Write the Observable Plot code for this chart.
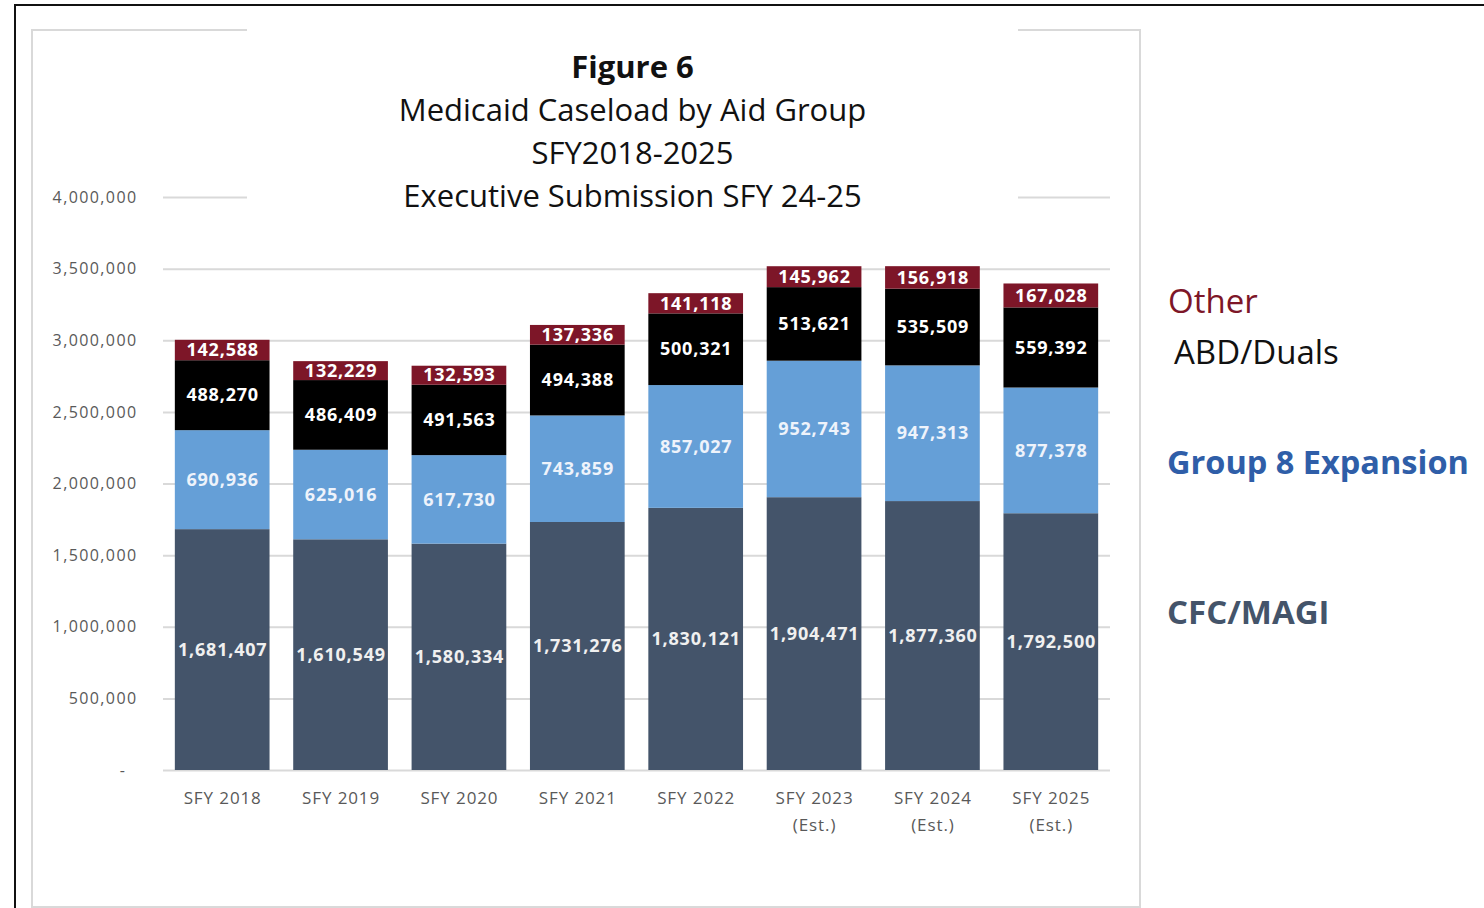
<!DOCTYPE html>
<html><head><meta charset="utf-8">
<script src="https://cdn.jsdelivr.net/npm/d3@7"></script>
<script src="https://cdn.jsdelivr.net/npm/@observablehq/plot@0.6"></script>
<style>
body{margin:0;background:#fff;font-family:"Open Sans",Lato,sans-serif;}
#wrap{position:relative;width:1484px;height:908px;overflow:hidden;background:#fff;}
#wrap svg{position:absolute;left:0;top:0;}
.abs{position:absolute;}
#outer{left:14px;top:4px;width:1600px;height:1000px;border-left:2px solid #111;border-top:2px solid #111;}
#inner{left:31px;top:29px;width:1106px;height:875px;border:2px solid #d9d9d9;}
#title{left:247px;top:26px;width:771px;padding-top:19px;background:#fff;text-align:center;color:#111;font-size:31px;line-height:43px;}
.leg{font-size:33px;white-space:nowrap;line-height:40px;}
.ytick text{letter-spacing:1.4px;}
.xtick text{letter-spacing:0.9px;}
.seglab text{letter-spacing:0.8px;}
</style></head><body><div id="wrap">
<div class="abs" id="outer"></div>
<div class="abs" id="inner"></div>
</div>
<script>
const years = ["SFY 2018","SFY 2019","SFY 2020","SFY 2021","SFY 2022","SFY 2023\n(Est.)","SFY 2024\n(Est.)","SFY 2025\n(Est.)"];
const cfcMagi = [1681407,1610549,1580334,1731276,1830121,1904471,1877360,1792500];
const group8 = [690936,625016,617730,743859,857027,952743,947313,877378];
const abdDuals = [488270,486409,491563,494388,500321,513621,535509,559392];
const other = [142588,132229,132593,137336,141118,145962,156918,167028];
const groups = ["CFC/MAGI","Group 8 Expansion","ABD/Duals","Other"];
const colors = ["#44546a","#659fd7","#000000","#7d1628"];
const labelColors = ["#f0f0f0","#eef3fb","#ffffff","#ffffff"];
const yTicks = [0,500000,1000000,1500000,2000000,2500000,3000000,3500000,4000000];
const titleLines = ["Figure 6","Medicaid Caseload by Aid Group","SFY2018-2025","Executive Submission SFY 24-25"];
const legendColors = ["#7d1628","#111111","#2f5ea8","#44546a"];

const series = [cfcMagi, group8, abdDuals, other];
const rows = [];
years.forEach((yr, i) => series.forEach((arr, g) => rows.push({year: yr, group: groups[g], value: arr[i], lc: labelColors[g]})));
const fmt = d3.format(",");

const plot = Plot.plot({
  width: 1484, height: 908,
  marginLeft: 163, marginRight: 374, marginTop: 197, marginBottom: 138,
  style: {background: "transparent", fontFamily: "'Open Sans', Lato, sans-serif", fontSize: "16px"},
  x: {domain: years, paddingInner: 0.2, paddingOuter: 0.1, round: false, label: null},
  y: {domain: [0, 4000000], label: null},
  color: {domain: groups, range: colors},
  marks: [
    Plot.gridY(yTicks, {stroke: "#d9d9d9", strokeOpacity: 1, strokeWidth: 2}),
    Plot.axisY(yTicks, {tickSize: 0, tickPadding: 26, tickFormat: d => d === 0 ? "-\u00a0\u00a0" : fmt(d), fill: "#595959", fontSize: 16, label: null, className: "ytick"}),
    Plot.axisX({tickSize: 0, tickPadding: 14, fill: "#595959", fontSize: 17, lineHeight: 1.6, label: null, className: "xtick"}),
    Plot.barY(rows, {x: "year", y: "value", fill: "group", order: groups}),
    Plot.text(rows, Plot.stackY({x: "year", y: "value", z: "group", order: groups, text: d => fmt(d.value), fill: "lc", fontSize: 18, fontWeight: "bold", className: "seglab"}))
  ]
});
const wrap = document.getElementById("wrap");
wrap.insertBefore(plot, wrap.firstChild);

const title = document.createElement("div");
title.className = "abs"; title.id = "title";
titleLines.forEach((t, i) => {
  const d = document.createElement("div");
  d.textContent = t;
  if (i === 0) d.style.fontWeight = "bold";
  title.appendChild(d);
});
wrap.appendChild(title);

const legPos = [[1168, 281], [1174, 332], [1167, 442], [1167, 592]];
groups.slice().reverse().forEach((g, i) => {
  const d = document.createElement("div");
  d.className = "abs leg";
  d.textContent = g;
  d.style.left = legPos[i][0] + "px";
  d.style.top = legPos[i][1] + "px";
  d.style.color = legendColors[i];
  if (i === 2) d.style.fontSize = "32.5px";
  if (i === 2 || i === 3) d.style.fontWeight = "bold";
  wrap.appendChild(d);
});
</script>
</body></html>
